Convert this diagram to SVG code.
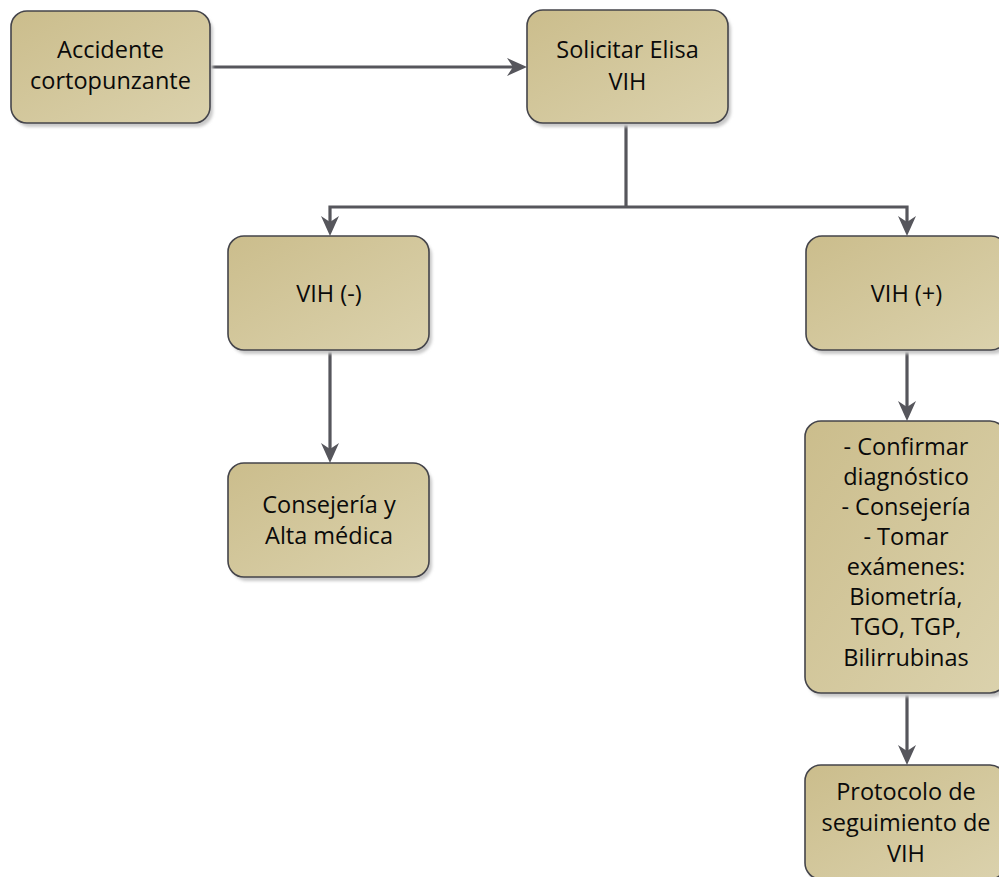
<svg xmlns="http://www.w3.org/2000/svg" width="999" height="877" viewBox="0 0 999 877">
<defs>
<linearGradient id="g" x1="0" y1="0" x2="1" y2="1">
<stop offset="0" stop-color="#cbbd8c"/>
<stop offset="1" stop-color="#dbd2ad"/>
</linearGradient>
<filter id="sh" x="-10%" y="-10%" width="130%" height="130%">
<feGaussianBlur stdDeviation="1.5"/>
</filter>
<marker id="ah" viewBox="0 0 20 18" refX="15" refY="9" markerWidth="20" markerHeight="18" markerUnits="userSpaceOnUse" orient="auto">
<path d="M0,0 L20,9 L0,18 L6,9 z" fill="#56565c"/>
</marker>
</defs>
<style>
.s{fill:#c8c8c8;filter:url(#sh)}
.b{fill:url(#g);stroke:#44444a;stroke-width:1.6}
.t{font-family:"Open Sans","Noto Sans",sans-serif;font-size:23.5px;fill:#0a0a0a;text-anchor:middle}
.c{fill:none;stroke:#56565c;stroke-width:3.2}
</style>
<g id="connectors">
<path class="c" d="M210,67 H522" marker-end="url(#ah)"/>
<path class="c" d="M626,124 V207"/>
<path class="c" d="M626,207 H330 V231" marker-end="url(#ah)"/>
<path class="c" d="M626,207 H907 V231" marker-end="url(#ah)"/>
<path class="c" d="M330,350 V458" marker-end="url(#ah)"/>
<path class="c" d="M907,350 V416" marker-end="url(#ah)"/>
<path class="c" d="M907,693 V760" marker-end="url(#ah)"/>
</g>
<g id="n1">
<rect class="s" x="14" y="15" width="199" height="112" rx="16"/>
<rect class="b" x="11" y="11" width="199" height="112" rx="16"/>
<text class="t" x="110.5" y="58">Accidente</text>
<text class="t" x="110.5" y="89">cortopunzante</text>
</g>
<g id="n2">
<rect class="s" x="530" y="14" width="201" height="113" rx="16"/>
<rect class="b" x="527" y="10" width="201" height="113" rx="16"/>
<text class="t" x="627.5" y="58">Solicitar Elisa</text>
<text class="t" x="627.5" y="90">VIH</text>
</g>
<g id="n3">
<rect class="s" x="231" y="240" width="201" height="114" rx="16"/>
<rect class="b" x="228" y="236" width="201" height="114" rx="16"/>
<text class="t" x="329" y="302">VIH (-)</text>
</g>
<g id="n4">
<rect class="s" x="809" y="240" width="201" height="114" rx="16"/>
<rect class="b" x="806" y="236" width="201" height="114" rx="16"/>
<text class="t" x="906.5" y="302">VIH (+)</text>
</g>
<g id="n5">
<rect class="s" x="231" y="467" width="201" height="114" rx="16"/>
<rect class="b" x="228" y="463" width="201" height="114" rx="16"/>
<text class="t" x="329" y="513">Consejería y</text>
<text class="t" x="329" y="544">Alta médica</text>
</g>
<g id="n6">
<rect class="s" x="808" y="425" width="201" height="272" rx="16"/>
<rect class="b" x="805" y="421" width="201" height="272" rx="16"/>
<text class="t" x="906" y="455">- Confirmar</text>
<text class="t" x="906" y="485">diagnóstico</text>
<text class="t" x="906" y="515">- Consejería</text>
<text class="t" x="906" y="545">- Tomar</text>
<text class="t" x="906" y="575">exámenes:</text>
<text class="t" x="906" y="605">Biometría,</text>
<text class="t" x="906" y="635">TGO, TGP,</text>
<text class="t" x="906" y="666">Bilirrubinas</text>
</g>
<g id="n7">
<rect class="s" x="808" y="769" width="201" height="114" rx="16"/>
<rect class="b" x="805" y="765" width="201" height="114" rx="16"/>
<text class="t" x="906" y="800">Protocolo de</text>
<text class="t" x="906" y="831">seguimiento de</text>
<text class="t" x="906" y="862">VIH</text>
</g>
</svg>
